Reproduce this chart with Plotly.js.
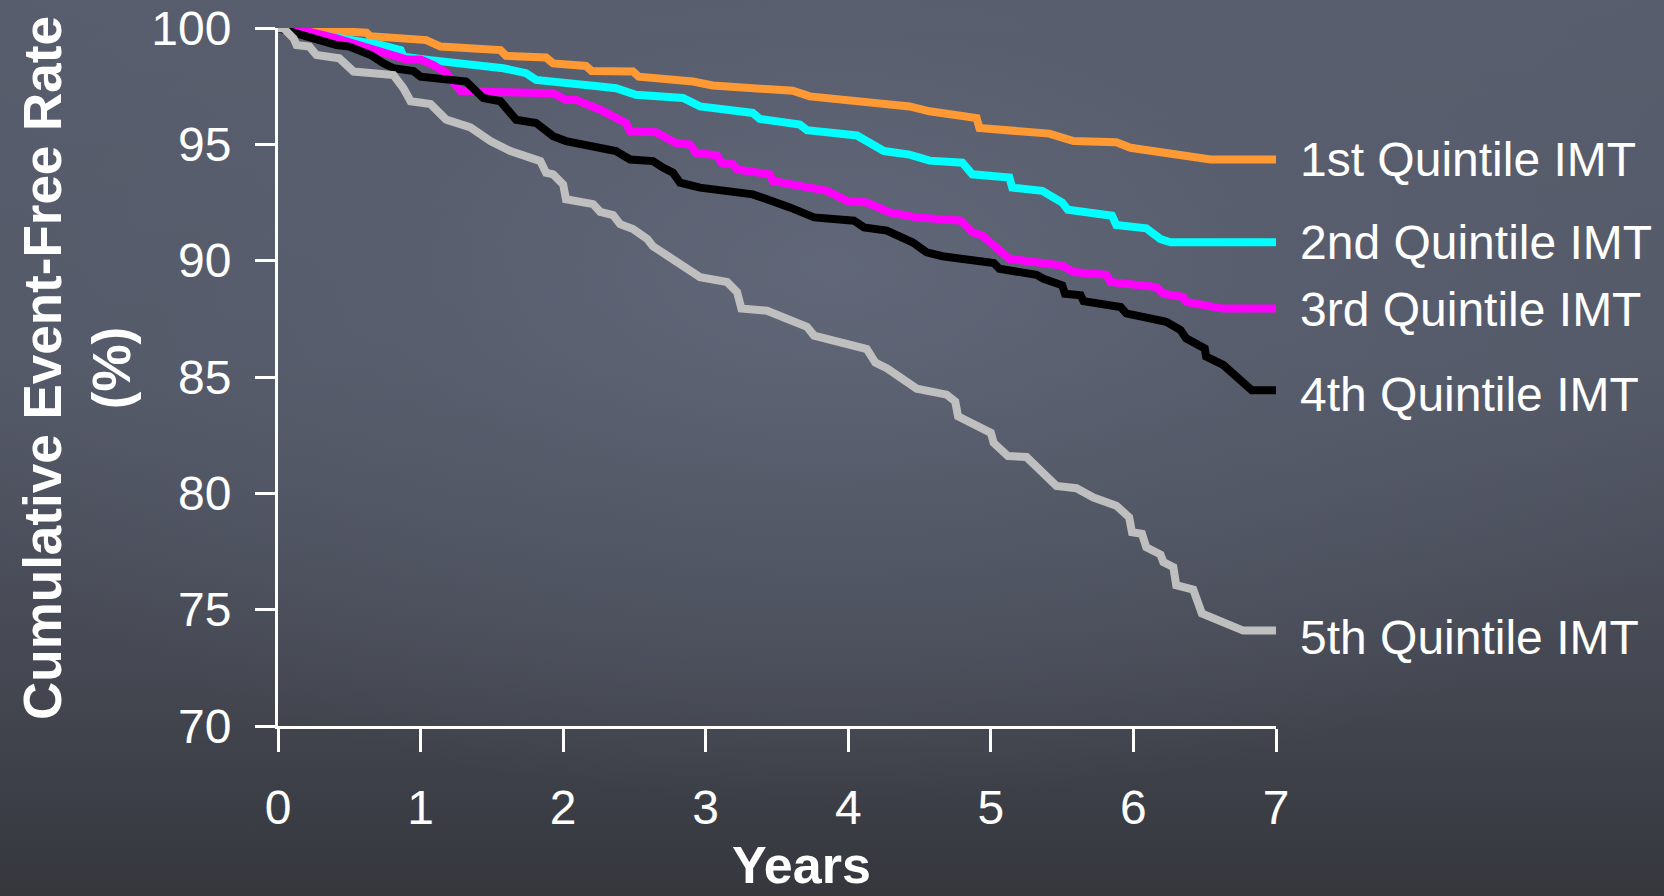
<!DOCTYPE html>
<html>
<head>
<meta charset="utf-8">
<script src="https://cdn.plot.ly/plotly-3.0.1.min.js"></script>
<style>
  html, body { margin: 0; padding: 0; width: 1664px; height: 896px; overflow: hidden; }
  body {
    background:
      radial-gradient(ellipse 60% 60% at 50% 30%, rgba(98,105,122,0.85) 0%, rgba(90,96,112,0.6) 45%, rgba(70,74,84,0.0) 100%),
      linear-gradient(180deg, #585d6d 0%, #545968 40%, #454852 75%, #35373d 100%);
  }
  #chart { width: 1664px; height: 896px; }
</style>
</head>
<body>
<div id="chart"></div>
<script>
// Series names (labels drawn at the end of each curve)
const seriesNames = ["1st Quintile IMT", "2nd Quintile IMT", "3rd Quintile IMT", "4th Quintile IMT", "5th Quintile IMT"];
const seriesColors = ["#ff9933", "#00ffff", "#ff00ff", "#000000", "#bfbfbf"];

// Axis ticks and titles
const xTicks = [0, 1, 2, 3, 4, 5, 6, 7];
const yTicks = [70, 75, 80, 85, 90, 95, 100];
const xTitle = "Years";
const yTitle = "Cumulative Event-Free Rate<br>(%)";

// 1st quintile
const q1Years = [0, 0.3, 0.62, 0.645, 1.04, 1.14, 1.56, 1.60, 1.88, 1.93, 2.16, 2.20, 2.49, 2.53, 2.91, 3.05, 3.61, 3.73, 4.01, 4.08, 4.43, 4.57, 4.90, 4.92, 5.41, 5.58, 5.88, 5.98, 6.54, 7.0];
const q1Rate  = [100, 99.93, 99.8, 99.65, 99.48, 99.2, 99.05, 98.8, 98.73, 98.48, 98.37, 98.15, 98.13, 97.91, 97.7, 97.53, 97.3, 97.06, 96.91, 96.8, 96.63, 96.42, 96.13, 95.7, 95.46, 95.14, 95.09, 94.85, 94.35, 94.35];

// 2nd quintile
const q2Years = [0, 0.25, 0.53, 0.72, 0.86, 0.88, 1.07, 1.58, 1.74, 1.81, 2.26, 2.37, 2.51, 2.84, 2.96, 3.33, 3.38, 3.66, 3.71, 4.06, 4.25, 4.43, 4.57, 4.80, 4.87, 5.13, 5.15, 5.36, 5.50, 5.54, 5.85, 5.88, 6.09, 6.19, 6.26, 7.0];
const q2Rate  = [100, 99.75, 99.41, 99.27, 99.05, 98.77, 98.62, 98.27, 98.06, 97.77, 97.49, 97.41, 97.13, 96.99, 96.63, 96.35, 96.09, 95.85, 95.61, 95.38, 94.71, 94.56, 94.3, 94.21, 93.71, 93.57, 93.14, 93.0, 92.5, 92.19, 91.93, 91.53, 91.39, 90.93, 90.79, 90.79];

// 3rd quintile
const q3Years = [0, 0.18, 0.41, 0.67, 0.86, 0.90, 1.0, 1.09, 1.18, 1.28, 1.58, 1.93, 2.02, 2.09, 2.26, 2.44, 2.47, 2.65, 2.79, 2.89, 2.93, 3.08, 3.11, 3.19, 3.22, 3.45, 3.47, 3.85, 3.99, 4.13, 4.29, 4.48, 4.79, 4.87, 4.94, 5.13, 5.50, 5.58, 5.81, 5.84, 6.16, 6.21, 6.35, 6.37, 6.63, 7.0];
const q3Rate  = [100, 99.9, 99.55, 99.05, 98.75, 98.65, 98.65, 98.41, 98.06, 97.3, 97.24, 97.2, 96.91, 96.91, 96.49, 95.92, 95.56, 95.52, 95.06, 94.99, 94.64, 94.52, 94.21, 94.14, 93.92, 93.71, 93.43, 93.0, 92.57, 92.5, 92.07, 91.86, 91.72, 91.22, 91.08, 90.08, 89.79, 89.51, 89.39, 89.08, 88.87, 88.58, 88.44, 88.23, 87.94, 87.94];

// 4th quintile
const q4Years = [0, 0.13, 0.29, 0.41, 0.50, 0.65, 0.74, 0.81, 0.95, 1.0, 1.32, 1.44, 1.56, 1.67, 1.81, 1.93, 2.02, 2.37, 2.47, 2.63, 2.70, 2.77, 2.82, 2.96, 3.33, 3.47, 3.59, 3.76, 4.04, 4.11, 4.27, 4.45, 4.55, 4.66, 5.02, 5.06, 5.32, 5.37, 5.50, 5.52, 5.63, 5.65, 5.91, 5.95, 6.23, 6.33, 6.37, 6.50, 6.51, 6.63, 6.83, 7.0];
const q4Rate  = [100, 99.76, 99.48, 99.27, 99.2, 98.84, 98.48, 98.27, 98.15, 97.91, 97.7, 96.99, 96.85, 96.06, 95.92, 95.35, 95.14, 94.71, 94.35, 94.28, 94.0, 93.78, 93.35, 93.14, 92.85, 92.57, 92.29, 91.86, 91.72, 91.43, 91.29, 90.79, 90.36, 90.19, 89.9, 89.65, 89.39, 89.22, 88.94, 88.58, 88.51, 88.26, 88.01, 87.73, 87.37, 87.02, 86.66, 86.23, 85.88, 85.52, 84.43, 84.43];

// 5th quintile
const q5Years = [0, 0.04, 0.11, 0.13, 0.22, 0.27, 0.43, 0.53, 0.81, 0.88, 0.93, 1.07, 1.18, 1.30, 1.35, 1.49, 1.63, 1.84, 1.88, 1.93, 2.0, 2.02, 2.21, 2.26, 2.35, 2.40, 2.49, 2.59, 2.63, 2.73, 2.96, 3.15, 3.22, 3.25, 3.43, 3.71, 3.76, 4.13, 4.19, 4.27, 4.43, 4.48, 4.69, 4.75, 4.77, 5.0, 5.02, 5.12, 5.25, 5.46, 5.60, 5.72, 5.88, 5.97, 5.99, 6.06, 6.09, 6.19, 6.21, 6.28, 6.30, 6.42, 6.48, 6.77, 7.0];
const q5Rate  = [100, 99.98, 99.55, 99.27, 99.2, 98.84, 98.70, 98.13, 97.98, 97.41, 96.85, 96.73, 96.06, 95.78, 95.73, 95.14, 94.71, 94.28, 93.78, 93.71, 93.28, 92.64, 92.43, 92.1, 91.96, 91.57, 91.36, 90.93, 90.62, 90.22, 89.29, 89.08, 88.65, 87.94, 87.85, 87.16, 86.78, 86.2, 85.62, 85.38, 84.78, 84.5, 84.24, 83.95, 83.31, 82.6, 82.17, 81.6, 81.56, 80.32, 80.22, 79.82, 79.47, 78.97, 78.33, 78.26, 77.68, 77.37, 77.04, 76.83, 76.05, 75.86, 74.84, 74.1, 74.1];

const allYears = [q1Years, q2Years, q3Years, q4Years, q5Years];
const allRates = [q1Rate, q2Rate, q3Rate, q4Rate, q5Rate];

const FONT = '"Liberation Sans", Arial, Helvetica, sans-serif';

const traces = allYears.map((xs, i) => ({
  type: 'scatter',
  mode: 'lines',
  name: seriesNames[i],
  x: xs,
  y: allRates[i],
  line: { color: seriesColors[i], width: 8, shape: 'linear' },
  cliponaxis: false,
  hoverinfo: 'skip'
}));

const labelShiftY = [0, 0, -1, -4, -7];
const annotations = allYears.map((xs, i) => ({
  x: xs[xs.length - 1],
  y: allRates[i][allRates[i].length - 1],
  xref: 'x', yref: 'y',
  text: seriesNames[i],
  showarrow: false,
  xanchor: 'left',
  yanchor: 'middle',
  xshift: 22,
  yshift: labelShiftY[i],
  font: { family: FONT, size: 48, color: '#ffffff' }
}));

// axis titles placed as annotations for exact positioning
annotations.push({
  xref: 'paper', yref: 'paper',
  x: (801 - 278) / 998, y: 0, yshift: -(896 - 726),
  xanchor: 'center', yanchor: 'bottom',
  text: xTitle, showarrow: false,
  font: { family: FONT, size: 52, color: '#ffffff', weight: 'bold' }
});
annotations.push({
  xref: 'paper', yref: 'paper',
  x: (77 - 278) / 998, y: (726 - 368) / 698,
  xanchor: 'center', yanchor: 'middle',
  textangle: -90,
  align: 'center',
  text: yTitle, showarrow: false,
  font: { family: FONT, size: 53, color: '#ffffff', weight: 'bold' }
});

const layout = {
  width: 1664,
  height: 896,
  margin: { l: 278, r: 388, t: 28, b: 170, pad: 0 },
  paper_bgcolor: 'rgba(0,0,0,0)',
  plot_bgcolor: 'rgba(0,0,0,0)',
  showlegend: false,
  font: { family: FONT, color: '#ffffff' },
  xaxis: {
    range: [0, 7],
    tickvals: xTicks,
    ticktext: xTicks.map(String),
    showgrid: false,
    zeroline: false,
    showline: true,
    linecolor: '#ffffff',
    linewidth: 3,
    ticks: 'outside',
    ticklen: 23,
    tickwidth: 3,
    tickcolor: '#ffffff',
    ticklabelstandoff: 14,
    ticklabeloverflow: 'allow',
    tickfont: { family: FONT, size: 48, color: '#ffffff' },
    automargin: false,
    fixedrange: true
  },
  yaxis: {
    range: [70, 100],
    tickvals: yTicks,
    ticktext: yTicks.map(String),
    showgrid: false,
    zeroline: false,
    showline: true,
    linecolor: '#ffffff',
    linewidth: 3,
    ticks: 'outside',
    ticklen: 20,
    tickwidth: 3,
    tickcolor: '#ffffff',
    ticklabelstandoff: 14,
    ticklabeloverflow: 'allow',
    tickfont: { family: FONT, size: 48, color: '#ffffff' },
    automargin: false,
    fixedrange: true
  },
  annotations: annotations
};

Plotly.newPlot('chart', traces, layout, { displayModeBar: false, staticPlot: true });
</script>
</body>
</html>
